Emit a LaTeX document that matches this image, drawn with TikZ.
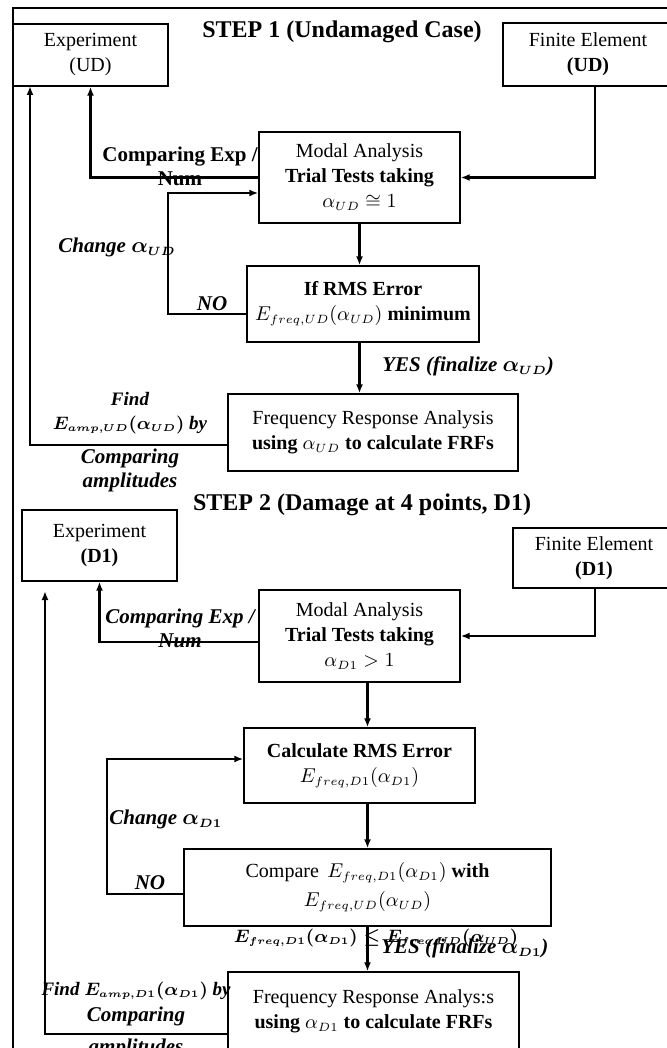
\documentclass[tikz,border=0pt]{standalone}
\usepackage{fontspec}
\setmainfont{Liberation Serif}
\usepackage{amsmath,amssymb}
\DeclareMathSizes{10}{10}{6}{5}
\DeclareMathSizes{10.5}{10.5}{6}{5}
\DeclareMathSizes{9.5}{9.5}{5.5}{5}
\usepackage{tikz}
\usetikzlibrary{arrows.meta}

\begin{document}
\begin{tikzpicture}[
                x=0.5pt, y=-0.5pt,
                >={Latex[length=4.5pt,width=3.5pt]},
                % Define styles for nodes
                box/.style={rectangle, draw=black, line width=0.7pt, align=center, inner sep=1pt, font=\fontsize{10}{12.5}\selectfont},
                flow/.style={->, line width=1.2pt},
                frame/.style={line width=1.4pt},
                steplabel/.style={font=\fontsize{12}{14}\selectfont\bfseries},
                note/.style={align=center, inner sep=1pt, font=\fontsize{10.5}{12}\selectfont\bfseries\boldmath},
                inote/.style={note, font=\fontsize{10.5}{12}\selectfont\bfseries\itshape\boldmath},
                mnote/.style={note, font=\fontsize{9.5}{12}\selectfont\bfseries\itshape\boldmath}
            ]
                \useasboundingbox (0,0) rectangle (667,1048);
                \clip (0,0) rectangle (667,1048);

                % Outer frame
                \draw[frame] (13,1060) -- (13,8) -- (690,8);

                % Define nodes, step 1
                \node[steplabel] (step1) at (342,32) {STEP 1 (Undamaged Case)};
                \node[box, minimum width=77.5pt, minimum height=31pt] (exp1) at (90.5,55) {Experiment\\(UD)};
                \node[box, minimum width=85pt, minimum height=31.5pt] (fe1) at (588,54.5) {Finite Element\\\textbf{(UD)}};
                \node[box, minimum width=100.5pt, minimum height=45.5pt] (modal1) at (359.5,177.5) {Modal Analysis\\\textbf{Trial Tests taking}\\$\alpha_{UD}\cong 1$};
                \node[box, minimum width=116pt, minimum height=38pt] (rms1) at (363,304) {\textbf{If RMS Error}\\$E_{freq,UD}(\alpha_{UD})$ \textbf{minimum}};
                \node[box, minimum width=145pt, minimum height=38.5pt] (fra1) at (373,432.5) {Frequency Response Analysis\\\textbf{using} $\alpha_{UD}$ \textbf{to calculate FRFs}};

                % Draw connections, step 1
                \draw[flow] ([xshift=3.5pt]fe1.south) |- (modal1.east);
                \draw[flow] (modal1.west) -| (exp1.south);
                \draw[flow] (modal1.south) -- (modal1.south |- rms1.north);
                \coordinate (chg1c) at (168,193);
                \draw[flow] ([yshift=-5pt]rms1.west) -| (chg1c) -- (chg1c -| modal1.west);
                \draw[flow] (rms1.south -| modal1.south) -- (fra1.north -| modal1.south);
                \coordinate (find1c) at (30,86);
                \draw[flow] ([yshift=-6.25pt]fra1.west) -| (find1c);

                % Labels, step 1
                \node[note] (cmp1) at (180,166) {Comparing Exp /\\Num};
                \node[inote, anchor=east] (chg1) at (178,247) {Change $\alpha_{UD}$};
                \node[inote] (no1) at (212,304) {NO};
                \node[inote, anchor=west] (yes1) at (380,366) {YES (finalize $\alpha_{UD}$)};
                \node[mnote, anchor=south] (find1) at (130,436) {Find\\$E_{amp,UD}(\alpha_{UD})$ by};
                \node[inote, anchor=north] (amp1) at (130,447) {Comparing\\amplitudes};

                % Define nodes, step 2
                \node[steplabel] (step2) at (362,505) {STEP 2 (Damage at 4 points, D1)};
                \node[box, minimum width=77.5pt, minimum height=35.5pt] (exp2) at (99.5,545.5) {Experiment\\\textbf{(D1)}};
                \node[box, minimum width=81pt, minimum height=30pt] (fe2) at (594,558) {Finite Element\\\textbf{(D1)}};
                \node[box, minimum width=100.5pt, minimum height=46pt] (modal2) at (359.5,636) {Modal Analysis\\\textbf{Trial Tests taking}\\$\alpha_{D1}>1$};
                \node[box, minimum width=115.5pt, minimum height=37.5pt] (calc2) at (359.5,765.5) {\textbf{Calculate RMS Error}\\$E_{freq,D1}(\alpha_{D1})$};
                \node[box, minimum width=183.5pt, minimum height=38.5pt] (compare2) at (367.5,887.5) {Compare\, $E_{freq,D1}(\alpha_{D1})$ \textbf{with}\\[2pt]$E_{freq,UD}(\alpha_{UD})$};
                \node[box, minimum width=145.5pt, minimum height=39pt] (fra2) at (373.5,1011) {Frequency Response Analys:s\\\textbf{using} $\alpha_{D1}$ \textbf{to calculate FRFs}};

                % Draw connections, step 2
                \draw[flow] ([xshift=0.5pt]fe2.south) |- (modal2.east);
                \draw[flow] ([yshift=-3pt]modal2.west) -| (exp2.south);
                \draw[flow] (modal2.south -| compare2.north) -- (calc2.north -| compare2.north);
                \draw[flow] (calc2.south -| compare2.north) -- (compare2.north);
                \coordinate (chg2c) at (107,759);
                \draw[flow] ([yshift=-3.25pt]compare2.west) -| (chg2c) -- (chg2c -| calc2.west);
                \draw[flow] (compare2.south) -- (fra2.north -| compare2.south);
                \coordinate (find2c) at (45,591);
                \draw[flow] ([yshift=-11.5pt]fra2.west) -| (find2c);

                % Labels, step 2
                \node[inote] (cmp2) at (180,628) {Comparing Exp /\\Num};
                \node[inote, anchor=west] (chg2) at (107,819) {Change $\alpha_{D1}$};
                \node[inote] (no2) at (150,883) {NO};
                \node[mnote] (cond2) at (376,938) {$E_{freq,D1}(\alpha_{D1})\le E_{freq,UD}(\alpha_{UD})$};
                \node[inote, anchor=west] (yes2) at (379,948) {YES (finalize $\alpha_{D1}$)};
                \node[mnote, anchor=north] (find2) at (136,980) {Find $E_{amp,D1}(\alpha_{D1})$ by\\[1pt]\fontsize{10.5}{12}\selectfont Comparing\\[4pt]\fontsize{10.5}{12}\selectfont amplitudes};
            \end{tikzpicture}
\end{document}
